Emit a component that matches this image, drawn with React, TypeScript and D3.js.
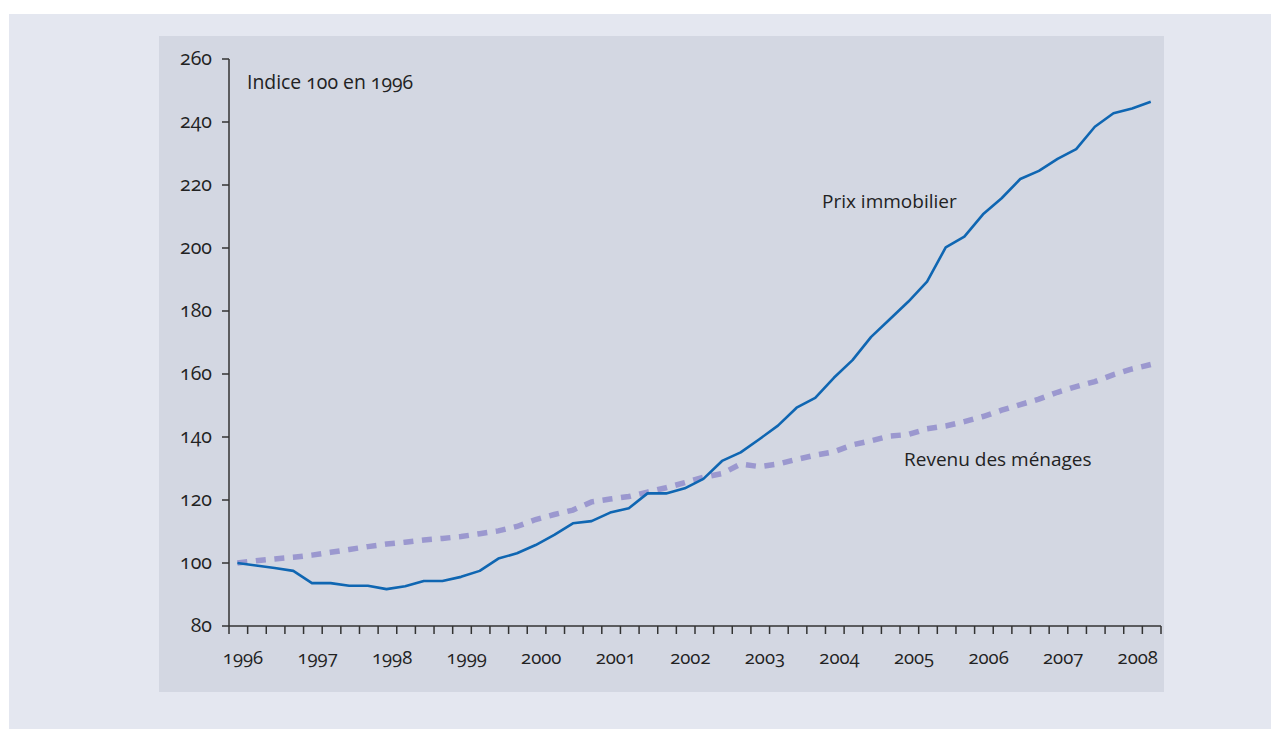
import React from "react";
import * as d3 from "d3";

const years = ["1996","1997","1998","1999","2000","2001","2002","2003","2004","2005","2006","2007","2008"];
const yTicks = [80, 100, 120, 140, 160, 180, 200, 220, 240, 260];

// Quarterly index values, 1996Q1 .. 2008Q2
const prixImmobilier = [
  100, 99.2, 98.4, 97.5, 93.6, 93.6, 92.8, 92.8, 91.7, 92.6,
  94.3, 94.3, 95.6, 97.5, 101.4, 103.1, 105.7, 108.9, 112.6, 113.3,
  116.0, 117.4, 122.1, 122.1, 123.7, 126.7, 132.4, 135.1, 139.3, 143.6,
  149.3, 152.4, 158.8, 164.4, 171.8, 177.4, 183.0, 189.3, 200.2, 203.6,
  210.7, 215.8, 221.9, 224.5, 228.3, 231.4, 238.5, 242.8, 244.3, 246.4,
];
const revenuMenages = [
  100, 100.7, 101.3, 101.8, 102.5, 103.4, 104.3, 105.2, 106.0, 106.6,
  107.3, 107.8, 108.4, 109.3, 110.2, 111.6, 113.8, 115.4, 116.8, 119.4,
  120.3, 121.1, 122.5, 123.9, 125.5, 127.2, 128.4, 131.4, 130.6, 131.4,
  132.9, 134.2, 135.3, 137.5, 138.8, 140.3, 140.8, 142.6, 143.5, 144.9,
  146.5, 148.5, 150.3, 152.0, 154.2, 156.0, 157.6, 159.8, 161.6, 163.0,
];

const FONT = "'Open Sans', 'DejaVu Sans', sans-serif";
const TEXT = "#222222";

export default function App() {
  const W = 1271, H = 729;
  const x = d3.scaleLinear().domain([0, 50]).range([229, 1161]);
  const y = d3.scaleLinear().domain([80, 260]).range([626, 59]);
  const line = d3.line<number>().x((_, i) => x(i + 0.45)).y((d) => y(d));
  const quarterTicks = d3.range(0, 51);
  const numStyle: React.CSSProperties = { fontVariantNumeric: "oldstyle-nums", fontFeatureSettings: "'onum' 1" };

  return (
    <svg width={W} height={H} style={{ position: "absolute", left: 0, top: 0 }} fontFamily={FONT}>
      <rect x={9} y={14} width={W - 9} height={H - 14} fill="#e4e7f0" />
      <rect x={159} y={36} width={1005} height={656} fill="#d3d7e2" />

      {/* y axis */}
      <line x1={229} x2={229} y1={y(260)} y2={y(80)} stroke="#333" strokeWidth={1.5} />
      {yTicks.map((t) => (
        <g key={t}>
          <line x1={222} x2={229} y1={y(t)} y2={y(t)} stroke="#333" strokeWidth={1.5} />
          <text x={212} y={y(t) + 6} textAnchor="end" fontSize={19.5} fill={TEXT} style={numStyle}>{t}</text>
        </g>
      ))}

      {/* x axis */}
      <line x1={x(0)} x2={x(50)} y1={626} y2={626} stroke="#333" strokeWidth={1.5} />
      {quarterTicks.map((k) => (
        <line key={k} x1={x(k)} x2={x(k)} y1={626} y2={634} stroke="#333" strokeWidth={1.5} />
      ))}
      {years.map((yr, j) => (
        <text key={yr} x={x(j * 4) + 14} y={664} textAnchor="middle" fontSize={18.5} fill={TEXT} style={numStyle}>{yr}</text>
      ))}

      {/* series */}
      <path d={line(revenuMenages) || ""} fill="none" stroke="#9b98cf" strokeWidth={5.5} strokeDasharray="10 8.6" />
      <path d={line(prixImmobilier) || ""} fill="none" stroke="#0f66b2" strokeWidth={2.6} strokeLinejoin="round" />

      {/* annotations */}
      <text x={247} y={89} fontSize={19.4} fill={TEXT} style={numStyle}>Indice 100 en 1996</text>
      <text x={822} y={208} fontSize={19} fill={TEXT}>Prix immobilier</text>
      <text x={904} y={466} fontSize={19} fill={TEXT}>Revenu des ménages</text>
    </svg>
  );
}
